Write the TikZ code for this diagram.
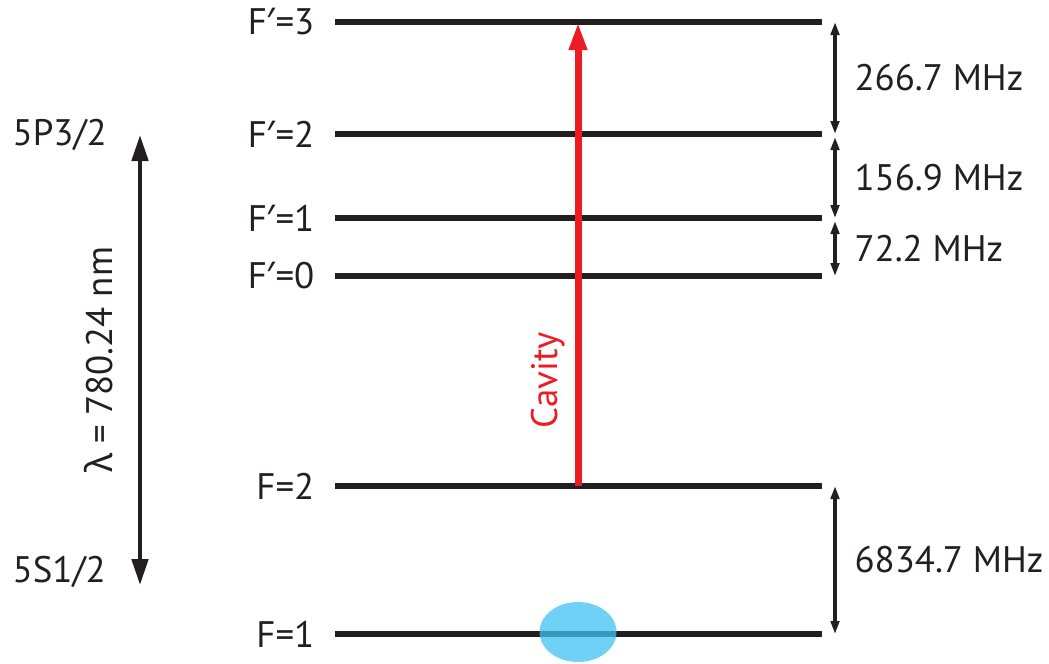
\documentclass[tikz,border=0pt]{standalone}
\usepackage{fontspec}
\setmainfont{PT Sans}
\newfontfamily\greekfont{Noto Sans}
\usetikzlibrary{arrows.meta,positioning}
\definecolor{ink}{HTML}{231F20}
\definecolor{cavityred}{HTML}{ED1C24}
\definecolor{atomblue}{HTML}{40C2F4}
\newcommand{\prm}{{\greekfont ′}}

\begin{document}
\begin{tikzpicture}
\tikzstyle{every node}=[font=\fontsize{10.5}{12}\selectfont, text=ink, inner sep=0pt]
\tikzstyle{level}=[draw=ink, line width=1.8pt]
\tikzstyle{split}=[draw=ink, line width=0.9pt, {Triangle[length=3.7pt,width=2.4pt]}-{Triangle[length=3.7pt,width=2.4pt]}]
\tikzstyle{wide split}=[draw=ink, line width=1.2pt, {Triangle[length=7.4pt,width=4.6pt]}-{Triangle[length=7.4pt,width=4.6pt]}]
\tikzstyle{pump}=[draw=cavityred, line width=2pt, -{Triangle[length=8pt,width=4.8pt]}]
\useasboundingbox (0,0) rectangle (10.49,6.63);

% hyperfine levels
\foreach \name/\y/\txt in {e3/6.41/F\prm=3, e2/5.29/F\prm=2, e1/4.45/F\prm=1, e0/3.87/F\prm=0, g2/1.77/F=2, g1/0.29/F=1} {
	\coordinate (\name-l) at (3.35,\y);
	\coordinate (\name-r) at (8.22,\y);
	\draw[level] (\name-l) -- (\name-r);
	\node[left=0.2cm of \name-l] (\name-lab) {\txt};
}

% atom
\fill[atomblue, fill opacity=0.75] (5.78,0.31) ellipse (0.385 and 0.30);

% cavity transition
\coordinate (pump-a) at (5.78,1.77);
\coordinate (pump-b) at (5.78,6.41);
\draw[pump] (pump-a) -- (pump-b);
\node[rotate=90, text=cavityred] (cavity) at (5.48,2.83) {Cavity};

% splittings
\draw[split] ([xshift=0.13cm]e3-r) -- ([xshift=0.13cm]e2-r)
	node[midway, right=0.18cm] (s32) {266.7 MHz};
\draw[split] ([xshift=0.13cm,yshift=-0.03cm]e2-r) -- ([xshift=0.13cm]e1-r)
	node[midway, right=0.18cm] (s21) {156.9 MHz};
\draw[split] ([xshift=0.13cm,yshift=-0.03cm]e1-r) -- ([xshift=0.13cm]e0-r)
	node[midway, right=0.18cm] (s10) {72.2 MHz};
\draw[split] ([xshift=0.13cm]g2-r) -- ([xshift=0.13cm]g1-r)
	node[midway, right=0.18cm] (sg) {6834.7 MHz};

% D2 line
\node[anchor=west] (upper) at (0.12,5.28) {5P3/2};
\node[anchor=west] (lower) at (0.12,0.91) {5S1/2};
\coordinate (d2-a) at (1.40,5.28);
\coordinate (d2-b) at (1.40,0.78);
\draw[wide split] (d2-a) -- (d2-b);
\node[rotate=90] (lambda) at (0.99,3.03) {{\greekfont λ} = 780.24 nm};
\end{tikzpicture}
\end{document}
